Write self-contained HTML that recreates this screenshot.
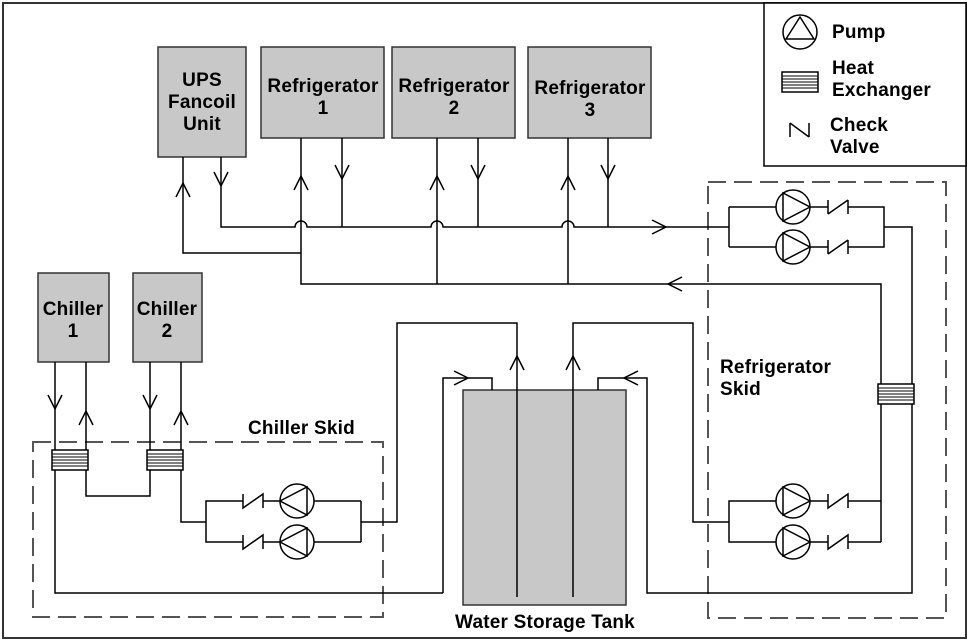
<!DOCTYPE html>
<html><head><style>body{margin:0;background:#fff}svg{display:block}text{font-family:"Liberation Sans",sans-serif;font-weight:bold;font-size:19px;letter-spacing:0.2px;fill:#000}</style></head>
<body>
<svg width="970" height="644" viewBox="0 0 970 644" xmlns="http://www.w3.org/2000/svg">
<defs>
<g id="hx"><rect x="-18" y="-10" width="36" height="20" fill="#fff" stroke="#000" stroke-width="1.5"/><path d="M-18 -6H18M-18 -3H18M-18 0H18M-18 3H18M-18 6H18" stroke="#000" stroke-width="1"/></g>
<g id="pr"><circle r="17" fill="#fff" stroke="#000" stroke-width="1.5"/><path d="M-10 -14V14L17 0Z" fill="none" stroke="#000" stroke-width="1.5"/></g>
<g id="pl"><circle r="17" fill="#fff" stroke="#000" stroke-width="1.5"/><path d="M10 -14V14L-17 0Z" fill="none" stroke="#000" stroke-width="1.5"/></g>
</defs>
<rect x="3" y="3" width="963" height="635" fill="none" stroke="#333" stroke-width="2"/>
<rect x="764" y="3" width="202" height="163" fill="#fff" stroke="#000" stroke-width="1.5"/>
<g fill="#c8c8c8" stroke="#333" stroke-width="1.5">
<rect x="158" y="47" width="88" height="110"/><rect x="261" y="47" width="123" height="91"/><rect x="392" y="47" width="123" height="91"/><rect x="528" y="47" width="123" height="91"/>
<rect x="38" y="273" width="71" height="89"/><rect x="133" y="273" width="69" height="89"/><rect x="463" y="390" width="163" height="215"/>
</g>
<g fill="none" stroke="#555" stroke-width="2" stroke-dasharray="18,8">
<rect x="33" y="442" width="350" height="175"/><rect x="708" y="182" width="238" height="436"/>
</g>
<g fill="none" stroke="#000" stroke-width="1.5">
<path d="M221 157V227H295A6 6 0 0 1 307 227H431A6 6 0 0 1 443 227H562A6 6 0 0 1 574 227H729"/>
<path d="M183 157V253H301"/>
<path d="M301 138V284H881V384"/><path d="M342 138V227M437 138V284M478 138V227M568 138V284M608 138V227"/>
<path d="M176 197L183 183L190 197M214 172L221 186L228 172M294 190L301 176L308 190M335 165L342 179L349 165M430 190L437 176L444 190M471 165L478 179L485 165M561 190L568 176L575 190M601 165L608 179L615 165"/>
<path d="M652 220L666 227L652 234M682 277L668 284L682 291"/>
<path d="M729 207V247M729 207H776M729 247H776M810 207H828M810 247H828M848 207H884V247H848M884 227H912V384"/>
<path d="M828 200V214M828 214L848 200M848 200V214M828 240V254M828 254L848 240M848 240V254"/>
<path d="M881 404V542M912 404V593H647V378H598V390"/>
<path d="M881 501H848M881 542H848M776 501H729V542H776M828 501H810M828 542H810M729 522H693V323H573V597"/>
<path d="M828 494V508L848 494V508M828 535V549L848 535V549"/>
<path d="M638 371L624 378L638 385"/>
<path d="M517 597V323H397V522H361M361 501V542M361 501H314M361 542H314M280 501H263M280 542H263M243 501H206V542H243M206 522H181V470"/>
<path d="M443 593V378H492V390M443 593H55V470"/>
<path d="M454 371L468 378L454 385M510 370L517 356L524 370M566 370L573 356L580 370"/>
<path d="M243 494V508L263 494V508M243 535V549L263 535V549"/>
<path d="M55 362V450M86 362V450M150 362V450M181 362V450M86 470V496H150V470"/>
<path d="M48 395L55 409L62 395M79 425L86 411L93 425M143 395L150 409L157 395M174 425L181 411L188 425"/>
<path d="M790 123V137M790 123L809 137M809 123V137"/>
</g>
<use href="#hx" x="70" y="460"/><use href="#hx" x="165" y="460"/><use href="#hx" x="896" y="394"/><use href="#hx" x="800" y="82"/>
<use href="#pr" x="793" y="207"/><use href="#pr" x="793" y="247"/><use href="#pr" x="793" y="501"/><use href="#pr" x="793" y="542"/>
<use href="#pl" x="297" y="501"/><use href="#pl" x="297" y="542"/>
<circle cx="800" cy="32" r="17" fill="#fff" stroke="#000" stroke-width="1.5"/><path d="M800 17L786 39H814Z" fill="none" stroke="#000" stroke-width="1.5"/>
<g text-anchor="middle">
<text x="202" y="86">UPS</text><text x="202" y="108">Fancoil</text><text x="202" y="130">Unit</text>
<text x="323" y="92">Refrigerator</text><text x="323" y="114">1</text>
<text x="454" y="92">Refrigerator</text><text x="454" y="114">2</text>
<text x="590" y="94">Refrigerator</text><text x="590" y="116">3</text>
<text x="73" y="315">Chiller</text><text x="73" y="337">1</text>
<text x="167" y="315">Chiller</text><text x="167" y="337">2</text>
<text x="545" y="628">Water Storage Tank</text>
</g>
<text x="248" y="434">Chiller Skid</text>
<text x="720" y="373">Refrigerator</text><text x="720" y="395">Skid</text>
<text x="832" y="38">Pump</text><text x="832" y="74">Heat</text><text x="832" y="96">Exchanger</text>
<text x="830" y="131">Check</text><text x="830" y="153">Valve</text>
</svg>
</body></html>
